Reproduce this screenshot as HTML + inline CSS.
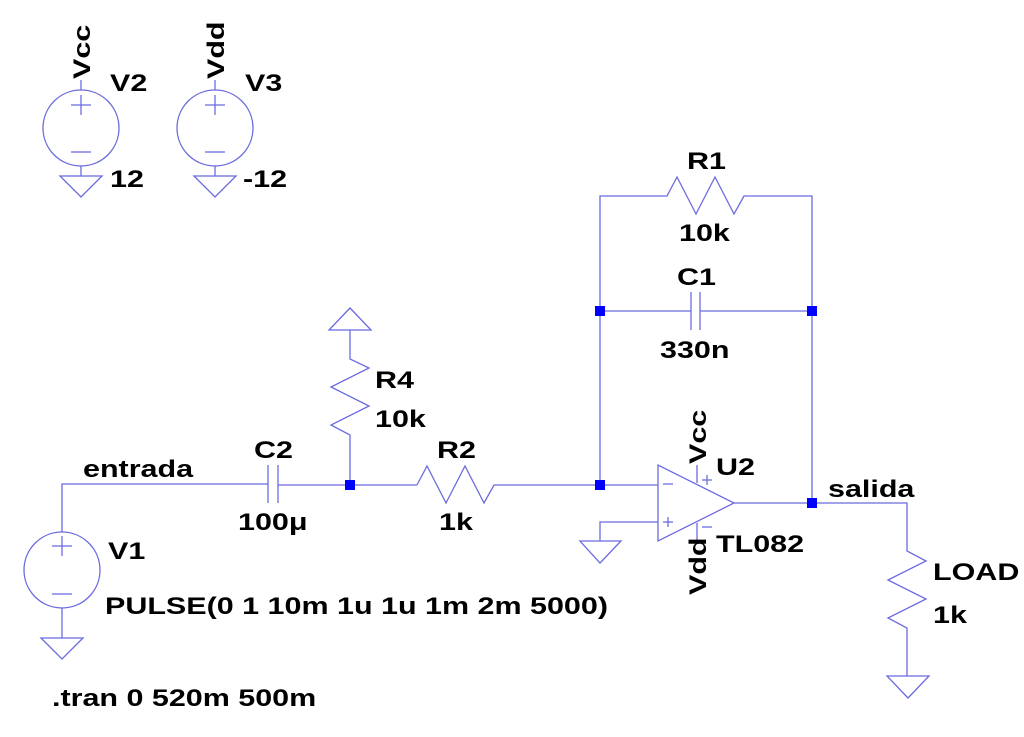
<!DOCTYPE html>
<html><head><style>
body{margin:0;background:#fff;}
svg{display:block}
text{font-family:"Liberation Sans",sans-serif;font-weight:bold;font-size:24px;fill:#000}
</style></head><body>
<svg width="1024" height="737" viewBox="0 0 1024 737">
<g stroke="#6b6be0" stroke-width="1.3" fill="none">
<!-- V2 -->
<line x1="81" y1="80" x2="81" y2="90"/>
<circle cx="81" cy="128" r="38"/>
<line x1="71" y1="105" x2="91" y2="105"/><line x1="81" y1="95" x2="81" y2="115"/>
<line x1="71" y1="152" x2="91" y2="152"/>
<line x1="81" y1="166" x2="81" y2="176"/>
<polygon points="60,176 102,176 81,197"/>
<!-- V3 -->
<line x1="215" y1="80" x2="215" y2="90"/>
<circle cx="215" cy="128" r="38"/>
<line x1="205" y1="105" x2="225" y2="105"/><line x1="215" y1="95" x2="215" y2="115"/>
<line x1="205" y1="152" x2="225" y2="152"/>
<line x1="215" y1="166" x2="215" y2="176"/>
<polygon points="194,176 236,176 215,197"/>
<!-- V1 -->
<polyline points="62,532 62,484 268,484"/>
<circle cx="62" cy="570" r="38"/>
<line x1="52" y1="546" x2="72" y2="546"/><line x1="62" y1="536" x2="62" y2="556"/>
<line x1="52" y1="594" x2="72" y2="594"/>
<line x1="62" y1="608" x2="62" y2="638"/>
<polygon points="41,638 83,638 62,659"/>
<!-- C2 -->
<line x1="268" y1="465" x2="268" y2="503"/><line x1="278" y1="465" x2="278" y2="503"/>
<line x1="278" y1="485" x2="417" y2="485"/>
<!-- R4 -->
<polygon points="329,330 371,330 350,308"/>
<polyline points="350,330 350,359 369,368 331,387 369,406 331,425 350,435 350,485"/>
<!-- R2 -->
<polyline points="417,485 427,466 446,503 465,466 484,503 494,485 658,485"/>
<!-- feedback -->
<polyline points="600,485 600,196 667,196 677,177 696,214 715,177 734,214 744,196 812,196 812,503"/>
<line x1="600" y1="311" x2="691" y2="311"/><line x1="700" y1="311" x2="812" y2="311"/>
<line x1="691" y1="292" x2="691" y2="330"/><line x1="700" y1="292" x2="700" y2="330"/>
<!-- opamp -->
<polygon points="658,465 658,541 734,503"/>
<line x1="663" y1="484" x2="673" y2="484"/>
<line x1="663" y1="522" x2="673" y2="522"/><line x1="668" y1="517" x2="668" y2="527"/>
<line x1="702" y1="480" x2="712" y2="480"/><line x1="707" y1="475" x2="707" y2="485"/>
<line x1="702" y1="527" x2="712" y2="527"/>
<line x1="697" y1="465" x2="697" y2="483"/>
<line x1="697" y1="523" x2="697" y2="540"/>
<polyline points="658,522 600,522 600,541"/>
<polygon points="580,541 621,541 600,563"/>
<!-- output/load -->
<polyline points="734,503 907,503 907,551 926,561 888,580 926,599 888,618 907,628 907,676"/>
<polygon points="887,676 929,676 908,698"/>
</g>
<g fill="#0000ff">
<rect x="345" y="480" width="10" height="10"/>
<rect x="595" y="480" width="10" height="10"/>
<rect x="595" y="306" width="10" height="10"/>
<rect x="807" y="306" width="10" height="10"/>
<rect x="807" y="498" width="10" height="10"/>
</g>
<g transform="translate(90,79) rotate(-90) scale(1.27,1)"><text>Vcc</text></g>
<g transform="translate(224,79) rotate(-90) scale(1.27,1)"><text>Vdd</text></g>
<g transform="translate(110,91) scale(1.27,1)"><text>V2</text></g>
<g transform="translate(245,91) scale(1.27,1)"><text>V3</text></g>
<g transform="translate(110,187) scale(1.27,1)"><text>12</text></g>
<g transform="translate(243,187) scale(1.27,1)"><text>-12</text></g>
<g transform="translate(687,169) scale(1.27,1)"><text>R1</text></g>
<g transform="translate(679,241) scale(1.27,1)"><text>10k</text></g>
<g transform="translate(677,285) scale(1.27,1)"><text>C1</text></g>
<g transform="translate(660,358) scale(1.27,1)"><text>330n</text></g>
<g transform="translate(375,388) scale(1.27,1)"><text>R4</text></g>
<g transform="translate(375,427) scale(1.27,1)"><text>10k</text></g>
<g transform="translate(437,458) scale(1.27,1)"><text>R2</text></g>
<g transform="translate(439,530) scale(1.27,1)"><text>1k</text></g>
<g transform="translate(254,458) scale(1.27,1)"><text>C2</text></g>
<g transform="translate(238,530) scale(1.27,1)"><text>100μ</text></g>
<g transform="translate(83,477) scale(1.27,1)"><text>entrada</text></g>
<g transform="translate(108,559) scale(1.27,1)"><text>V1</text></g>
<g transform="translate(105,614) scale(1.27,1)"><text>PULSE(0 1 10m 1u 1u 1m 2m 5000)</text></g>
<g transform="translate(52,706) scale(1.27,1)"><text>.tran 0 520m 500m</text></g>
<g transform="translate(706,464) rotate(-90) scale(1.27,1)"><text>Vcc</text></g>
<g transform="translate(706,595) rotate(-90) scale(1.27,1)"><text>Vdd</text></g>
<g transform="translate(716,475) scale(1.27,1)"><text>U2</text></g>
<g transform="translate(716,552) scale(1.27,1)"><text>TL082</text></g>
<g transform="translate(828,497) scale(1.27,1)"><text>salida</text></g>
<g transform="translate(933,580) scale(1.27,1)"><text>LOAD</text></g>
<g transform="translate(933,623) scale(1.27,1)"><text>1k</text></g>
</svg>
</body></html>
